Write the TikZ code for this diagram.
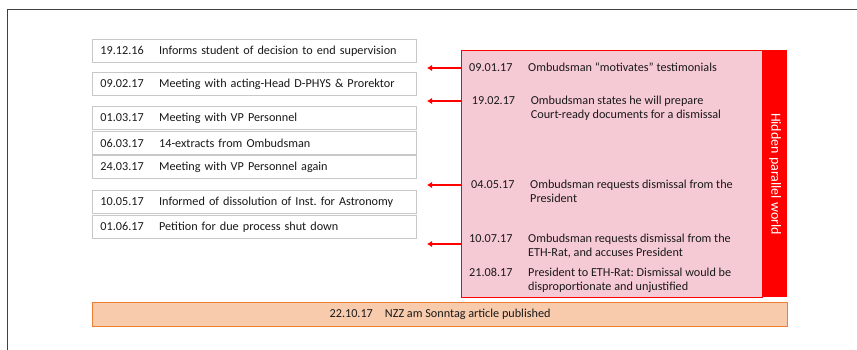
\documentclass[tikz,border=0pt]{standalone}
\usepackage{fontspec}
\setmainfont{Carlito}
\usetikzlibrary{arrows.meta}
\frenchspacing
\definecolor{framegray}{HTML}{404040}
\definecolor{boxgray}{HTML}{C8C8C8}
\definecolor{pinkfill}{RGB}{246,202,213}
\definecolor{orangefill}{HTML}{F8CBAD}
\definecolor{orangeline}{HTML}{ED7D31}
\tikzset{
  txt/.style={font=\fontsize{12.2}{14}\selectfont, text=black!90},
  leftbox/.style={draw=boxgray, line width=0.9pt, fill=white, minimum width=324pt, minimum height=23pt,
    text width=308pt, inner xsep=8pt, align=left, anchor=north west, txt},
  ptxt/.style={txt, inner sep=0pt, anchor=base west},
  redarrow/.style={draw=red, line width=1.8pt, -{Latex[length=5pt,width=6.5pt]}},
}
\newcommand{\dt}[1]{\makebox[58.7pt][l]{#1}}
\newcommand{\twoline}[2]{\begin{tabular}[t]{@{}l@{}}#1\\#2\end{tabular}}
\begin{document}
\begin{tikzpicture}[x=1pt,y=-1pt]
\useasboundingbox (0,0) rectangle (857,350);
% frame
\draw[framegray, line width=1.5pt] (7.5,350) -- (7.5,9.5) -- (857,9.5);

% left boxes
\node[leftbox] (b1) at (92,39) {\dt{19.12.16}Informs student of decision to end supervision};
\node[leftbox] (b2) at (92,72) {\dt{09.02.17}Meeting with acting-Head D-PHYS \& Prorektor};
\node[leftbox] (b3) at (92,106) {\dt{01.03.17}Meeting with VP Personnel};
\node[leftbox] (b4) at (92,131) {\dt{06.03.17}14-extracts from Ombudsman};
\node[leftbox] (b5) at (92,155.5) {\dt{24.03.17}Meeting with VP Personnel again};
\node[leftbox] (b6) at (92,190) {\dt{10.05.17}Informed of dissolution of Inst. for Astronomy};
\node[leftbox] (b7) at (92,215) {\dt{01.06.17}Petition for due process shut down};

% pink panel and red bar
\node[draw=red, line width=1.4pt, fill=pinkfill, minimum width=301pt, minimum height=247pt, anchor=north west, inner sep=0pt] (pink) at (461,50) {};
\node[fill=red, minimum width=25pt, minimum height=247pt, anchor=north west, inner sep=0pt] (bar) at (762,50) {};
\node[font=\fontsize{14}{16}\selectfont, text=white, rotate=-90] (hidden) at (775,174) {Hidden parallel world};

% pink texts
\node[ptxt] (d1) at (469,71.5) {09.01.17};
\node[ptxt] (t1) at (528,71.5) {Ombudsman “motivates” testimonials};
\node[ptxt] (d2) at (471.7,104.7) {19.02.17};
\node[ptxt] (t2) at (530.7,104.7) {\twoline{Ombudsman states he will prepare}{Court-ready documents for a dismissal}};
\node[ptxt] (d3) at (471,188.7) {04.05.17};
\node[ptxt] (t3) at (530,188.7) {\twoline{Ombudsman requests dismissal from the}{President}};
\node[ptxt] (d4) at (469,242.3) {10.07.17};
\node[ptxt] (t4) at (528,242.3) {\twoline{Ombudsman requests dismissal from the}{ETH-Rat, and accuses President}};
\node[ptxt] (d5) at (469,276) {21.08.17};
\node[ptxt] (t5) at (528,276) {\twoline{President to ETH-Rat: Dismissal would be}{disproportionate and unjustified}};

% arrows
\coordinate (a1) at (427,68);
\coordinate (a2) at (427,101);
\coordinate (a3) at (427,185);
\coordinate (a4) at (427,244);
\draw[redarrow] (pink.west |- a1) -- (a1);
\draw[redarrow] (pink.west |- a2) -- (a2);
\draw[redarrow] (pink.west |- a3) -- (a3);
\draw[redarrow] (pink.west |- a4) -- (a4);

% orange box
\node[draw=orangeline, line width=1.2pt, fill=orangefill, minimum width=695pt, minimum height=23.5pt, anchor=north west, txt] (nzz) at (92,302) {22.10.17\hspace{12pt}NZZ am Sonntag article published};
\end{tikzpicture}
\end{document}
